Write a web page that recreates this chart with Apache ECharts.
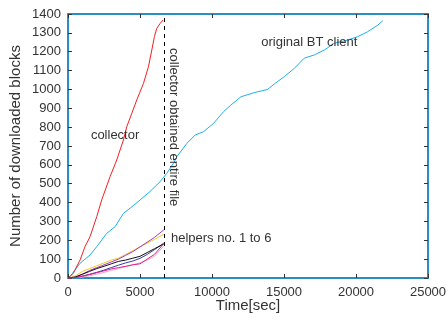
<!DOCTYPE html>
<html><head><meta charset="utf-8">
<script src="https://cdn.jsdelivr.net/npm/echarts@6/dist/echarts.min.js"></script>
<style>html,body{margin:0;padding:0;background:#fff}#c{width:448px;height:321px}</style>
</head><body><div id="c"></div>
<script>
const xTicks = [0, 5000, 10000, 15000, 20000, 25000];
const yTicks = [0,100,200,300,400,500,600,700,800,900,1000,1100,1200,1300,1400];

const collectorTime = [0,370,835,1180,1530,1995,2340,2920,3385,3850,4080,4430,4775,5240,5585,5820,6000,6165,6400,6600];
const collectorBlocks = [0,25,95,166,219,325,414,537,626,732,802,873,944,1032,1120,1209,1280,1324,1350,1368];

const btTime = [0,140,835,1530,1995,2690,3270,3850,4310,5010,5700,6400,6860,7320,7560,8250,8830,9410,10110,10800,11310,12010,12930,13860,14330,15020,15720,16410,17110,17800,18500,19420,20120,20810,21510,21860];
const btBlocks = [0,7,78,122,166,237,272,343,370,414,459,511,555,608,643,714,758,776,820,882,917,961,983,1000,1029,1068,1112,1166,1183,1209,1245,1262,1280,1306,1341,1364];

const helperTime = [0,500,1000,1500,2000,2500,3000,3500,4000,4500,5000,5500,6000,6650];
const helperPurple  = [0,5,20,40,55,70,85,100,120,140,165,190,215,255];
const helperYellow  = [0,10,35,50,65,80,95,105,125,145,165,185,205,232];
const helperBlack   = [0,5,20,35,50,62,75,88,95,105,115,135,155,180];
const helperBlue    = [0,2,10,20,30,42,55,68,80,90,104,125,150,185];
const helperMagenta = [0,2,10,18,28,38,48,55,62,70,75,100,125,182];
const helperPink    = [0,1,5,12,20,30,40,50,60,70,80,95,115,170];

const collectorDoneTime = 6650;

const zip = (xs, ys) => xs.map((x, i) => [x, ys[i]]);
const font = 'Liberation Sans, Arial, sans-serif';
const frame = '#2a8fc0';

function line(data, color, extra) {
  return Object.assign({
    type: 'line', data: data, showSymbol: false, symbol: 'none',
    lineStyle: { color: color, width: 1 }, itemStyle: { color: color },
    animation: false, z: 3
  }, extra || {});
}

const chart = echarts.init(document.getElementById('c'));
const axisCommon = {
  type: 'value',
  axisLine: { show: true, onZero: false, lineStyle: { color: frame, width: 2 } },
  axisTick: { show: true, inside: true, length: 4, lineStyle: { color: '#333' } },
  splitLine: { show: false }
};
const plain = v => String(v);
chart.setOption({
  animation: false,
  textStyle: { fontFamily: font },
  grid: { left: 68, right: 20, top: 14, bottom: 43, containLabel: false, outerBoundsMode: 'none' },
  xAxis: [
    Object.assign({}, axisCommon, {
      min: xTicks[0], max: xTicks[xTicks.length - 1], interval: 5000, position: 'bottom',
      axisLabel: { color: '#333', fontSize: 13, margin: 8, fontFamily: font, formatter: plain },
      name: 'Time[sec]', nameLocation: 'middle', nameGap: 20, nameMoveOverlap: false,
      nameTextStyle: { color: '#333', fontSize: 15, fontFamily: font }
    }),
    Object.assign({}, axisCommon, {
      min: xTicks[0], max: xTicks[xTicks.length - 1], interval: 5000, position: 'top',
      axisLabel: { show: false }
    })
  ],
  yAxis: [
    Object.assign({}, axisCommon, {
      min: yTicks[0], max: yTicks[yTicks.length - 1], interval: 100, position: 'left',
      axisLabel: { color: '#333', fontSize: 13, margin: 7, fontFamily: font, formatter: plain },
      name: 'Number of downloaded blocks', nameLocation: 'middle', nameGap: 45, nameMoveOverlap: false,
      nameTextStyle: { color: '#333', fontSize: 15, fontFamily: font }
    }),
    Object.assign({}, axisCommon, {
      min: yTicks[0], max: yTicks[yTicks.length - 1], interval: 100, position: 'right',
      axisLabel: { show: false }
    })
  ],
  series: [
    line(zip(btTime, btBlocks), '#1cb0ea'),
    line(zip(collectorTime, collectorBlocks), '#f02020', {
      markLine: {
        silent: true, symbol: 'none',
        lineStyle: { color: '#000', type: [4, 4], width: 1 },
        label: { show: false },
        data: [{ xAxis: collectorDoneTime }]
      }
    }),
    line(zip(helperTime, helperPink), '#f2a6c6'),
    line(zip(helperTime, helperYellow), '#f5c828'),
    line(zip(helperTime, helperPurple), '#a23cb8'),
    line(zip(helperTime, helperBlue), '#3a3aa8'),
    line(zip(helperTime, helperBlack), '#111111'),
    line(zip(helperTime, helperMagenta), '#e0208c'),
    {
      type: 'scatter', symbolSize: 0, data: [], silent: true,
      markPoint: {
        symbol: 'circle', symbolSize: 0,
        data: [
          { coord: [3270, 758], label: { show: true, formatter: 'collector', color: '#333', fontSize: 13, fontFamily: font } },
          { coord: [16760, 1251], label: { show: true, formatter: 'original BT client', color: '#333', fontSize: 13, fontFamily: font } },
          { coord: [7150, 212], label: { show: true, formatter: 'helpers no. 1 to 6', color: '#333', fontSize: 13, fontFamily: font, align: 'left' } },
          { coord: [7300, 800], label: { show: true, formatter: 'collector obtained entire file', color: '#333', fontSize: 13, fontFamily: font, rotate: -90 } }
        ]
      }
    }
  ]
});
</script></body></html>
